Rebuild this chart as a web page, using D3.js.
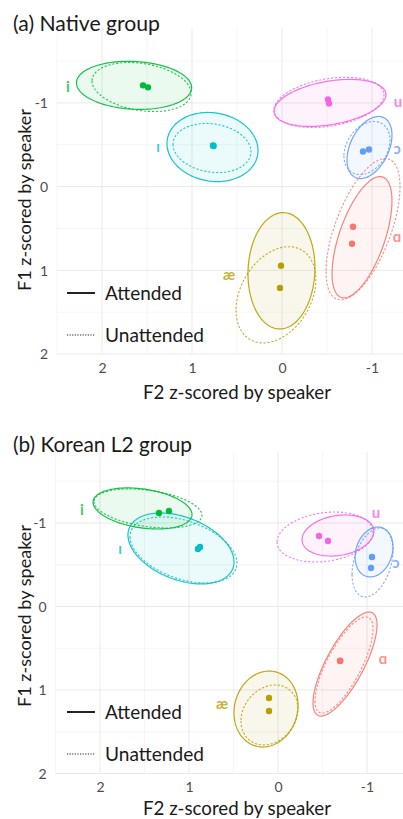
<!DOCTYPE html>
<html><head><meta charset="utf-8">
<script src="https://cdn.jsdelivr.net/npm/d3@7"></script>
<style>body{margin:0;background:#fff;} svg{display:block;} text{font-family:Lato,"Open Sans",sans-serif;}</style>
</head><body>
<script>
// ---- data ----
const vowels = ["i","ɪ","u","ɔ","ɑ","æ"];
const vowelColors = ["#00BA38","#00BFC4","#F564E3","#619CFF","#F8766D","#B79F00"];
const xTicks = [2,1,0,-1];
const yTicks = [-1,0,1,2];
const xTickLabels = ["2","1","0","-1"];
const yTickLabels = ["-1","0","1","2"];
const legendLabels = ["Attended","Unattended"];

// ellipses: [F2 centre, F1 centre, F2 half-extent, F1 half-extent, correlation]
const nativeAttEll = [
  [1.644,-1.21,0.64,0.287,-0.1],[0.772,-0.473,0.506,0.413,-0.1],[-0.533,-1.0,0.622,0.281,0.35],
  [-0.972,-0.467,0.25,0.371,0.4],[-0.889,0.605,0.333,0.725,0.6],[0.006,1.006,0.372,0.695,0.05]];
const nativeUnattEll = [
  [1.561,-1.19,0.55,0.293,-0.25],[0.778,-0.461,0.433,0.293,-0.15],[-0.522,-1.006,0.611,0.3,0.3],
  [-0.944,-0.461,0.256,0.317,0.3],[-0.9,0.509,0.411,0.844,0.6],[0.067,1.293,0.444,0.575,0.32]];
const nativeAttMean = [[1.544,-1.21],[0.767,-0.491],[-0.511,-1.042],[-0.9,-0.419],[-0.789,0.479],[0.011,0.946]];
const nativeUnattMean = [[1.489,-1.186],[0.76,-0.485],[-0.522,-0.994],[-0.967,-0.443],[-0.778,0.683],[0.022,1.21]];
const nativeLabelPos = [[2.378,-1.198],[1.378,-0.479],[-1.289,-1.018],[-1.278,-0.455],[-1.278,0.599],[0.589,1.054]];

const koreanAttEll = [
  [1.522,-1.174,0.556,0.246,-0.3],[1.09,-0.695,0.596,0.425,-0.38],[-0.674,-0.85,0.404,0.246,0.2],
  [-1.079,-0.653,0.213,0.299,0.2],[-0.753,0.689,0.36,0.623,0.75],[0.135,1.228,0.36,0.455,0.1]];
const koreanUnattEll = [
  [1.461,-1.174,0.607,0.234,-0.35],[1.062,-0.677,0.601,0.395,-0.4],[-0.528,-0.832,0.539,0.299,0.2],
  [-1.062,-0.527,0.23,0.413,0.35],[-0.742,0.701,0.326,0.575,0.75],[0.096,1.299,0.32,0.359,0.2]];
const koreanAttMean = [[1.337,-1.12],[0.899,-0.689],[-0.461,-0.844],[-1.056,-0.593],[-0.697,0.653],[0.101,1.096]];
const koreanUnattMean = [[1.225,-1.144],[0.876,-0.713],[-0.562,-0.784],[-1.045,-0.461],[-0.70,0.65],[0.101,1.251]];
const koreanLabelPos = [[2.202,-1.158],[1.775,-0.689],[-1.101,-1.12],[-1.326,-0.52],[-1.18,0.629],[0.629,1.168]];

const W = 403, H = 819;
const svg = d3.select("body").append("svg").attr("width", W).attr("height", H);

function fit(sel, target) {
  const n = sel.node();
  const fs = parseFloat(sel.attr("font-size"));
  const w = n.getComputedTextLength();
  if (w > 0) sel.attr("font-size", (fs * target / w).toFixed(2));
}

function panel(cfg) {
  const g = svg.append("g");
  const x = d3.scaleLinear().domain([2.5, -1.5]).range([cfg.left, cfg.left + 4 * cfg.ppx]);
  const y = d3.scaleLinear().domain([cfg.yTop, 2]).range([cfg.top, cfg.bottom]);
  const clipId = "clip" + cfg.id;
  g.append("clipPath").attr("id", clipId).append("rect")
    .attr("x", cfg.left).attr("y", cfg.top).attr("width", W + 50 - cfg.left).attr("height", cfg.bottom - cfg.top);

  // grid
  const grid = g.append("g");
  const xMinor = [2.5,1.5,0.5,-0.5,-1.5], yMinor = [-1.5,-0.5,0.5,1.5];
  grid.selectAll(".xm").data(xMinor).join("line")
    .attr("x1", d => x(d)).attr("x2", d => x(d)).attr("y1", cfg.top).attr("y2", cfg.bottom)
    .attr("stroke", "#f2f2f2").attr("stroke-width", 0.8);
  grid.selectAll(".ym").data(yMinor).join("line")
    .attr("y1", d => y(d)).attr("y2", d => y(d)).attr("x1", cfg.left).attr("x2", W + 20)
    .attr("stroke", "#f2f2f2").attr("stroke-width", 0.8);
  grid.selectAll(".xM").data(xTicks).join("line")
    .attr("x1", d => x(d)).attr("x2", d => x(d)).attr("y1", cfg.top).attr("y2", cfg.bottom)
    .attr("stroke", "#e9e9e9").attr("stroke-width", 1);
  grid.selectAll(".yM").data(yTicks).join("line")
    .attr("y1", d => y(d)).attr("y2", d => y(d)).attr("x1", cfg.left).attr("x2", W + 20)
    .attr("stroke", "#e9e9e9").attr("stroke-width", 1);

  // axes (tick labels only)
  const xAxis = d3.axisBottom(x).tickValues(xTicks).tickSize(0).tickFormat((d, i) => xTickLabels[i]);
  const xa = g.append("g").attr("transform", `translate(0,${cfg.bottom + 6})`).call(xAxis);
  xa.select(".domain").remove();
  xa.selectAll("text").attr("font-size", 14).attr("fill", "#4d4d4d").attr("font-family", "Lato");
  const yAxis = d3.axisLeft(y).tickValues(yTicks).tickSize(0).tickFormat((d, i) => yTickLabels[i]);
  const ya = g.append("g").attr("transform", `translate(${cfg.left - 6},0)`).call(yAxis);
  ya.select(".domain").remove();
  ya.selectAll("text").attr("font-size", 14).attr("fill", "#4d4d4d").attr("font-family", "Lato").attr("dy", "0.35em");

  // ellipses
  const line = d3.line().curve(d3.curveLinearClosed);
  const ts = d3.range(0, 120).map(k => k / 120 * 2 * Math.PI);
  function ellPts(e) {
    const [cx, cy, sx, sy, r] = e;
    const q = Math.sqrt(1 - r * r);
    return ts.map(t => [x(cx + sx * Math.cos(t)), y(cy + sy * (r * Math.cos(t) + q * Math.sin(t)))]);
  }
  const marks = g.append("g").attr("clip-path", `url(#${clipId})`);
  marks.selectAll(".fa").data(cfg.att).join("path")
    .attr("d", d => line(ellPts(d))).attr("fill", (d, i) => vowelColors[i]).attr("fill-opacity", 0.08).attr("stroke", "none");
  marks.selectAll(".ua").data(cfg.unatt).join("path")
    .attr("d", d => line(ellPts(d))).attr("fill", "none").attr("stroke", (d, i) => vowelColors[i])
    .attr("stroke-width", 1.1).attr("stroke-dasharray", "2.2,1.8").attr("stroke-opacity", 0.85);
  marks.selectAll(".sa").data(cfg.att).join("path")
    .attr("d", d => line(ellPts(d))).attr("fill", "none").attr("stroke", (d, i) => vowelColors[i])
    .attr("stroke-width", 1.2).attr("stroke-opacity", 0.9);
  // means
  marks.selectAll(".pa").data(cfg.attMean).join("circle")
    .attr("cx", d => x(d[0])).attr("cy", d => y(d[1])).attr("r", 3.2).attr("fill", (d, i) => vowelColors[i]);
  marks.selectAll(".pu").data(cfg.unattMean).join("circle")
    .attr("cx", d => x(d[0])).attr("cy", d => y(d[1])).attr("r", 3.2).attr("fill", (d, i) => vowelColors[i]);
  // labels
  g.selectAll(".lab").data(cfg.labels).join("text")
    .attr("x", d => x(d[0])).attr("y", d => y(d[1])).attr("dy", "0.35em")
    .attr("text-anchor", "middle").attr("font-size", 15).attr("font-weight", "bold")
    .attr("font-family", "'DejaVu Sans',sans-serif")
    .attr("fill", (d, i) => vowelColors[i]).attr("fill-opacity", 0.8)
    .text((d, i) => vowels[i]);

  // legend
  const lg = g.append("g");
  cfg.legendY.forEach((ly, i) => {
    lg.append("line").attr("x1", 67).attr("x2", 95).attr("y1", ly).attr("y2", ly)
      .attr("stroke", "#222").attr("stroke-width", i === 0 ? 2 : 1.2)
      .attr("stroke-dasharray", i === 0 ? null : "1.2,1.4");
    const t = lg.append("text").attr("x", 105).attr("y", ly).attr("dy", "0.35em")
      .attr("font-size", 18).attr("fill", "#1a1a1a").text(legendLabels[i]);
    fit(t, i === 0 ? 77 : 99);
  });

  // titles
  const tt = svg.append("text").attr("x", 13).attr("y", cfg.titleY).attr("font-size", 20).attr("fill", "#1a1a1a").text(cfg.title);
  fit(tt, cfg.titleW);
  const xt = svg.append("text").attr("x", 237).attr("y", cfg.xTitleY).attr("text-anchor", "middle")
    .attr("font-size", 17).attr("fill", "#1a1a1a").text("F2 z-scored by speaker");
  fit(xt, 188);
  const yt = svg.append("text").attr("transform", `translate(31,${cfg.yTitleC}) rotate(-90)`).attr("text-anchor", "middle")
    .attr("font-size", 17).attr("fill", "#1a1a1a").text("F1 z-scored by speaker");
  fit(yt, 182);
}

panel({id: "a", left: 57, ppx: 90, top: 28, bottom: 354, yTop: -1.895,
  att: nativeAttEll, unatt: nativeUnattEll, attMean: nativeAttMean, unattMean: nativeUnattMean, labels: nativeLabelPos,
  legendY: [293, 335], title: "(a) Native group", titleY: 31, titleW: 147, xTitleY: 399, yTitleC: 200});
panel({id: "b", left: 55.5, ppx: 89, top: 452, bottom: 773.5, yTop: -1.85,
  att: koreanAttEll, unatt: koreanUnattEll, attMean: koreanAttMean, unattMean: koreanUnattMean, labels: koreanLabelPos,
  legendY: [712, 754], title: "(b) Korean L2 group", titleY: 452, titleW: 179, xTitleY: 815, yTitleC: 616});
</script>
</body></html>
